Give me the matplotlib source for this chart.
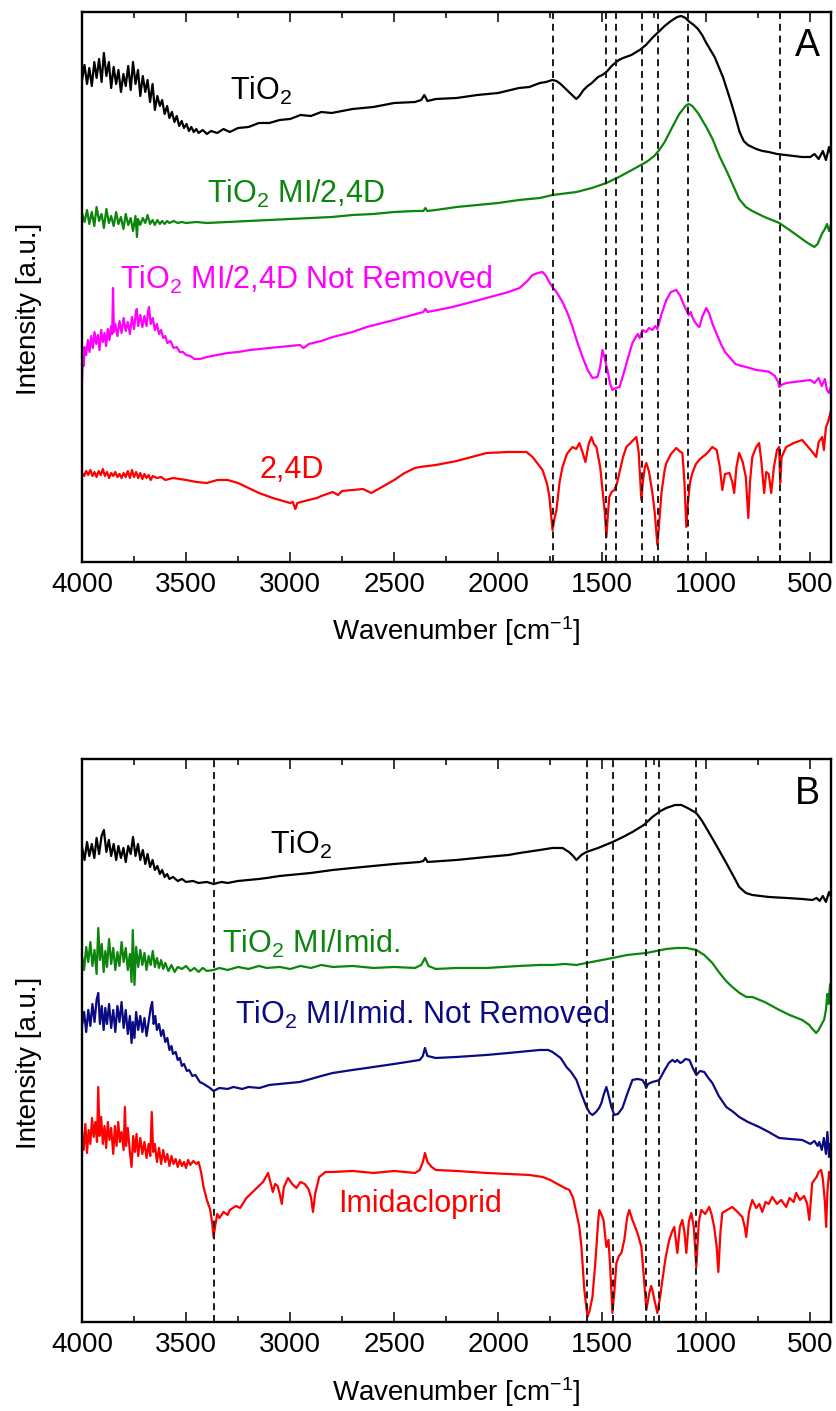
import numpy as np
import matplotlib.pyplot as plt
from matplotlib.ticker import MultipleLocator

plt.rcParams['font.family'] = 'Liberation Sans'
plt.rcParams['mathtext.fontset'] = 'custom'
plt.rcParams['mathtext.rm'] = 'Liberation Sans'
plt.rcParams['mathtext.it'] = 'Liberation Sans:italic'
plt.rcParams['lines.scale_dashes'] = False

# FTIR spectra, (wavenumber cm-1, offset intensity a.u.)
# panel A: 2,4-D series
tio2_a = [(4000,482),(3988,497),(3976,478),(3965,494),(3953,476),(3941,500),(3930,484),(3918,503),(3906,480),(3895,509),(3883,486),(3871,500),(3860,474),(3848,495),(3836,478),(3825,492),(3813,470),(3801,488),(3790,476),(3778,496),(3766,472),(3755,500),(3743,478),(3731,492),(3720,466),(3708,486),(3696,470),(3685,482),(3673,460),(3661,478),(3650,452),(3638,466),(3626,456),(3615,462),(3603,448),(3591,456),(3580,444),(3568,450),(3556,440),(3545,446),(3533,436),(3521,441),(3510,434),(3498,438),(3486,431),(3475,435),(3463,430),(3451,433),(3440,429),(3420,432),(3400,428),(3380,431),(3350,429),(3320,433),(3290,430),(3250,434),(3200,435),(3150,439),(3100,439),(3050,442),(3000,443),(2950,447),(2900,446),(2850,450),(2800,449),(2700,453),(2600,455),(2500,459),(2400,460),(2370,462),(2355,467),(2340,461),(2300,463),(2200,464),(2100,467),(2000,469),(1900,474),(1850,475),(1800,479),(1770,480),(1740,482),(1720,481),(1700,478),(1680,474),(1660,470),(1640,466),(1625,463),(1610,466),(1590,472),(1570,476),(1550,479),(1520,485),(1500,487),(1480,490),(1450,497),(1420,502),(1400,504),(1360,507),(1320,512),(1290,517),(1260,524),(1230,530),(1200,536),(1170,541),(1140,545),(1120,546),(1100,544),(1080,540),(1060,537),(1040,533),(1020,527),(1000,519),(980,512),(960,505),(940,495),(920,485),(900,472),(880,459),(860,445),(840,430),(820,421),(800,417),(780,415),(760,413),(730,411),(700,410),(660,408),(620,407),(580,406),(540,405),(500,405),(480,408),(460,403),(440,411),(425,402),(410,415),(400,407)]

mi_24d = [(4000,349),(3988,340),(3976,352),(3965,338),(3953,350),(3941,336),(3930,355),(3918,341),(3906,348),(3895,334),(3883,353),(3871,339),(3860,346),(3848,336),(3836,350),(3825,338),(3813,345),(3801,333),(3790,348),(3778,337),(3766,344),(3755,331),(3743,346),(3736,325),(3731,343),(3720,337),(3708,344),(3696,339),(3685,347),(3673,338),(3661,342),(3650,337),(3638,342),(3626,338),(3615,341),(3603,338),(3591,341),(3580,339),(3560,341),(3540,339),(3520,340),(3500,339),(3450,340),(3400,339),(3300,340),(3200,341),(3100,342),(3000,343),(2900,344),(2800,345),(2700,347),(2600,348),(2500,350),(2400,351),(2360,351),(2350,354),(2340,351),(2300,352),(2200,355),(2100,357),(2000,359),(1900,362),(1800,364),(1739,367),(1700,368),(1624,370),(1550,374),(1480,379),(1420,385),(1384,389),(1340,394),(1288,400),(1250,406),(1226,412),(1200,420),(1163,435),(1130,448),(1100,456),(1085,458),(1067,456),(1040,449),(1020,442),(1000,435),(970,423),(937,406),(900,390),(870,376),(842,363),(810,355),(779,351),(720,345),(649,339),(600,332),(553,325),(520,320),(481,315),(465,318),(455,323),(442,329),(430,333),(420,338),(410,331),(400,338)]

mi_24d_nr = [(4000,182),(3996,205),(3992,196),(3988,215),(3980,207),(3972,222),(3964,210),(3956,226),(3948,214),(3940,230),(3932,218),(3924,227),(3916,212),(3908,232),(3900,220),(3892,229),(3884,216),(3876,233),(3868,222),(3860,236),(3855,228),(3851,274),(3847,230),(3840,238),(3830,226),(3820,241),(3810,229),(3800,244),(3790,231),(3780,240),(3770,228),(3760,245),(3750,233),(3742,248),(3737,253),(3730,236),(3720,247),(3710,235),(3700,246),(3690,236),(3683,250),(3678,255),(3670,238),(3660,244),(3650,232),(3640,238),(3630,228),(3620,232),(3610,224),(3600,226),(3590,219),(3575,221),(3560,214),(3545,215),(3530,210),(3515,210),(3500,207),(3480,206),(3460,203),(3434,203),(3400,205),(3352,207),(3300,209),(3250,210),(3193,212),(3100,214),(3000,216),(2953,217),(2935,214),(2910,218),(2850,221),(2795,225),(2700,230),(2632,235),(2500,242),(2377,249),(2360,250),(2350,253),(2340,250),(2219,255),(2056,264),(1950,270),(1897,274),(1860,281),(1835,287),(1810,289),(1787,290),(1770,286),(1755,280),(1739,275),(1720,270),(1691,260),(1665,248),(1643,235),(1620,220),(1595,205),(1570,192),(1547,184),(1523,185),(1510,195),(1499,212),(1490,205),(1475,192),(1462,178),(1451,172),(1435,174),(1417,175),(1395,190),(1375,205),(1355,219),(1330,228),(1320,224),(1307,232),(1290,230),(1275,234),(1259,232),(1245,236),(1235,233),(1215,248),(1192,262),(1170,270),(1144,272),(1125,266),(1110,258),(1096,252),(1085,247),(1075,250),(1067,245),(1055,240),(1040,236),(1033,235),(1020,245),(1000,254),(985,248),(970,238),(952,229),(930,218),(910,210),(889,205),(860,198),(830,196),(808,195),(760,192),(720,191),(697,190),(670,186),(655,180),(649,175),(640,177),(616,179),(580,180),(540,181),(500,182),(480,179),(460,184),(445,176),(430,183),(420,172),(410,169),(400,176)]

d24 = [(4000,89),(3990,86),(3980,91),(3970,87),(3960,92),(3950,86),(3940,90),(3930,85),(3920,91),(3910,87),(3900,93),(3890,86),(3880,90),(3870,84),(3860,89),(3850,86),(3840,90),(3830,85),(3820,88),(3810,84),(3800,89),(3790,85),(3780,91),(3770,84),(3760,92),(3750,85),(3740,90),(3730,84),(3720,89),(3710,83),(3700,88),(3690,84),(3680,87),(3670,82),(3660,86),(3640,84),(3620,85),(3600,82),(3563,84),(3500,82),(3450,80),(3400,79),(3350,82),(3300,82),(3250,79),(3200,74),(3150,69),(3083,64),(3050,62),(3000,59),(2987,60),(2975,53),(2965,59),(2930,61),(2871,64),(2850,66),(2795,70),(2770,67),(2750,71),(2700,72),(2650,73),(2610,69),(2584,72),(2550,76),(2500,82),(2450,89),(2400,94),(2377,95),(2300,97),(2200,101),(2056,109),(1950,110),(1864,110),(1835,105),(1787,92),(1765,78),(1754,65),(1739,32),(1728,45),(1720,52),(1705,80),(1691,95),(1670,108),(1643,115),(1625,113),(1610,119),(1595,110),(1581,100),(1565,118),(1552,125),(1540,118),(1528,115),(1510,95),(1499,72),(1488,50),(1480,25),(1472,50),(1466,65),(1455,70),(1442,72),(1430,78),(1418,89),(1400,105),(1384,115),(1360,120),(1336,125),(1325,110),(1318,85),(1312,62),(1305,80),(1295,95),(1288,99),(1275,90),(1259,69),(1248,50),(1240,30),(1235,17),(1228,35),(1215,70),(1200,92),(1192,99),(1170,108),(1144,114),(1130,111),(1115,109),(1105,80),(1096,35),(1088,60),(1078,80),(1067,89),(1050,98),(1030,103),(1000,108),(971,115),(950,112),(935,95),(923,72),(910,88),(889,89),(875,80),(866,69),(855,95),(842,109),(825,100),(810,85),(798,44),(790,80),(779,105),(760,115),(746,119),(735,100),(722,69),(712,90),(700,88),(688,69),(675,95),(660,112),(650,115),(645,79),(638,105),(616,115),(580,119),(539,122),(510,115),(490,110),(472,105),(460,120),(443,125),(435,112),(425,135),(415,140),(400,152)]

# panel B: imidacloprid series
tio2_b = [(4000,475),(3988,462),(3976,480),(3965,466),(3953,478),(3941,464),(3930,484),(3918,468),(3906,486),(3895,492),(3883,470),(3871,482),(3860,466),(3848,478),(3836,462),(3825,476),(3813,464),(3801,474),(3790,460),(3778,476),(3766,468),(3755,485),(3743,466),(3731,478),(3720,462),(3708,472),(3696,458),(3685,468),(3673,455),(3661,462),(3650,452),(3638,456),(3626,448),(3615,452),(3603,445),(3591,448),(3580,443),(3563,445),(3540,441),(3520,443),(3500,440),(3467,441),(3440,439),(3400,440),(3368,438),(3330,440),(3300,439),(3250,441),(3200,442),(3150,443),(3112,444),(3050,446),(3000,447),(2900,449),(2795,452),(2700,454),(2600,456),(2500,458),(2377,460),(2360,461),(2350,464),(2340,460),(2200,462),(2056,465),(1950,467),(1897,469),(1800,472),(1739,474),(1691,474),(1660,470),(1640,466),(1624,462),(1600,467),(1576,470),(1520,474),(1450,480),(1400,485),(1355,490),(1300,497),(1259,505),(1220,511),(1192,514),(1150,517),(1120,517),(1090,514),(1048,509),(1020,501),(986,489),(950,476),(904,459),(870,446),(842,435),(810,429),(779,427),(700,425),(616,424),(540,423),(490,422),(470,424),(455,421),(440,426),(425,420),(410,430),(400,425)]

mi_imid = [(4000,366),(3990,352),(3980,375),(3970,360),(3960,380),(3950,356),(3940,372),(3930,348),(3922,394),(3914,362),(3905,378),(3896,350),(3888,371),(3880,355),(3870,383),(3860,358),(3850,374),(3840,352),(3830,370),(3820,356),(3810,380),(3800,360),(3790,374),(3780,352),(3770,368),(3762,340),(3756,392),(3748,337),(3740,375),(3730,355),(3720,372),(3710,357),(3700,369),(3690,352),(3680,366),(3670,357),(3660,371),(3650,355),(3640,364),(3630,354),(3620,362),(3610,353),(3600,359),(3585,351),(3570,357),(3555,350),(3540,355),(3520,353),(3500,356),(3480,351),(3460,354),(3440,350),(3420,354),(3400,351),(3368,352),(3340,354),(3300,352),(3250,355),(3200,353),(3150,356),(3112,354),(3050,355),(3000,353),(2950,356),(2900,354),(2850,357),(2795,355),(2700,356),(2600,354),(2500,355),(2400,354),(2370,357),(2352,364),(2335,356),(2300,353),(2200,354),(2056,354),(1900,356),(1800,357),(1739,357),(1680,358),(1624,357),(1576,359),(1500,362),(1450,364),(1380,367),(1288,369),(1240,371),(1192,373),(1140,374),(1096,374),(1048,372),(1010,367),(971,359),(940,350),(905,341),(875,335),(840,329),(808,325),(779,325),(720,320),(649,312),(600,307),(539,302),(505,297),(490,293),(472,289),(460,292),(450,296),(440,300),(434,302),(425,312),(418,328),(412,318),(405,338),(400,332)]

mi_imid_nr = [(4000,296),(3990,310),(3980,290),(3970,312),(3960,296),(3950,318),(3940,300),(3930,322),(3922,329),(3914,298),(3905,316),(3896,292),(3888,314),(3880,298),(3870,318),(3860,294),(3850,312),(3840,290),(3830,316),(3820,300),(3810,320),(3800,294),(3790,312),(3780,288),(3770,306),(3762,279),(3756,300),(3748,284),(3740,310),(3730,292),(3720,306),(3710,290),(3700,304),(3690,286),(3680,300),(3670,314),(3663,320),(3656,298),(3648,306),(3640,292),(3630,298),(3620,286),(3610,292),(3600,280),(3590,284),(3580,272),(3570,276),(3563,268),(3550,270),(3540,262),(3530,264),(3520,256),(3510,258),(3496,251),(3485,252),(3470,246),(3455,247),(3434,240),(3415,238),(3400,236),(3385,234),(3368,231),(3340,234),(3300,233),(3272,235),(3230,233),(3200,235),(3147,234),(3100,237),(3050,238),(2953,240),(2900,243),(2850,246),(2795,249),(2700,252),(2632,254),(2500,258),(2377,262),(2362,266),(2352,274),(2340,266),(2300,264),(2200,265),(2056,267),(1950,269),(1850,271),(1800,272),(1760,272),(1739,270),(1700,264),(1672,255),(1650,250),(1624,242),(1600,228),(1576,215),(1560,209),(1547,207),(1530,210),(1515,214),(1504,219),(1492,228),(1480,235),(1470,227),(1456,215),(1442,207),(1425,208),(1403,214),(1380,228),(1355,242),(1330,243),(1307,242),(1295,238),(1289,234),(1280,238),(1259,240),(1240,241),(1226,242),(1200,252),(1180,259),(1163,262),(1150,260),(1140,262),(1125,259),(1115,260),(1100,263),(1081,262),(1065,254),(1048,247),(1030,251),(1010,250),(990,244),(971,239),(940,226),(904,215),(870,210),(842,205),(800,200),(746,195),(700,190),(650,184),(600,183),(539,182),(500,178),(480,181),(465,176),(457,180),(445,172),(435,184),(425,168),(418,190),(410,165),(405,178),(400,172)]

imid = [(4000,190),(3992,172),(3984,198),(3976,169),(3968,192),(3960,178),(3952,204),(3944,185),(3936,200),(3928,180),(3922,235),(3916,186),(3908,205),(3900,178),(3892,196),(3884,174),(3876,200),(3868,182),(3860,194),(3850,168),(3842,196),(3834,176),(3826,200),(3818,180),(3810,190),(3800,172),(3794,215),(3788,176),(3780,194),(3770,170),(3762,155),(3754,186),(3746,170),(3738,188),(3730,166),(3720,184),(3710,168),(3700,180),(3690,164),(3680,178),(3672,166),(3665,210),(3658,170),(3650,178),(3640,160),(3630,174),(3620,158),(3610,172),(3600,160),(3590,168),(3580,156),(3570,166),(3560,158),(3550,163),(3540,155),(3530,162),(3520,156),(3510,160),(3500,154),(3490,162),(3480,157),(3465,161),(3450,158),(3440,160),(3428,150),(3416,135),(3400,122),(3385,113),(3375,100),(3368,85),(3360,96),(3350,108),(3340,104),(3320,110),(3300,107),(3290,112),(3260,116),(3240,114),(3210,124),(3180,130),(3150,136),(3130,140),(3106,149),(3095,140),(3083,130),(3072,138),(3060,136),(3050,128),(3040,118),(3030,135),(3010,144),(2990,138),(2970,134),(2950,140),(2930,138),(2912,133),(2900,125),(2890,110),(2880,128),(2860,145),(2830,150),(2795,150),(2700,151),(2600,149),(2500,151),(2400,149),(2377,152),(2362,160),(2352,169),(2340,160),(2320,155),(2300,152),(2200,151),(2056,149),(1950,148),(1850,147),(1787,145),(1750,142),(1707,137),(1680,134),(1658,132),(1640,124),(1624,109),(1610,95),(1600,75),(1586,32),(1571,5),(1560,12),(1547,25),(1535,55),(1528,75),(1520,100),(1514,112),(1505,108),(1494,102),(1487,88),(1480,75),(1470,82),(1462,55),(1451,9),(1442,30),(1432,59),(1420,66),(1408,69),(1394,82),(1380,105),(1370,112),(1355,102),(1336,92),(1325,85),(1312,75),(1300,45),(1288,12),(1275,28),(1265,36),(1259,32),(1247,20),(1235,9),(1222,25),(1211,42),(1195,65),(1178,82),(1165,90),(1154,95),(1139,69),(1127,95),(1115,102),(1105,90),(1096,69),(1084,100),(1072,109),(1060,95),(1048,55),(1036,100),(1024,112),(1005,108),(986,115),(975,108),(962,95),(950,75),(942,50),(932,90),(923,109),(900,112),(875,115),(850,110),(827,105),(815,95),(808,85),(795,110),(779,122),(760,114),(745,118),(731,110),(715,120),(700,118),(683,125),(660,118),(640,122),(616,115),(600,124),(580,120),(568,129),(550,122),(530,126),(515,118),(505,102),(498,120),(491,139),(470,145),(460,150),(448,152),(440,143),(430,120),(424,95),(418,130),(410,150),(405,149),(400,140)]

# marked band positions (cm-1)
bands_a = [1736, 1481, 1432, 1308, 1232, 1089, 644]
bands_b = [3368, 1572, 1447, 1289, 1225, 1048]

GREEN = '#0c850c'
NAVY = '#0a0a84'

panel_a = [(tio2_a, 'black', 'TiO$_\\mathregular{2}$', 3290, 462),
           (mi_24d, GREEN, 'TiO$_\\mathregular{2}$ MI/2,4D', 3400, 359),
           (mi_24d_nr, '#ff00ff', 'TiO$_\\mathregular{2}$ MI/2,4D Not Removed', 3818, 273),
           (d24, '#ff0000', '2,4D', 3146, 84)]
panel_b = [(tio2_b, 'black', 'TiO$_\\mathregular{2}$', 3098, 468),
           (mi_imid, GREEN, 'TiO$_\\mathregular{2}$ MI/Imid.', 3328, 369),
           (mi_imid_nr, NAVY, 'TiO$_\\mathregular{2}$ MI/Imid. Not Removed', 3266, 298),
           (imid, '#ff0000', 'Imidacloprid', 2771, 110)]


def draw_panel(ax, spectra, bands, tag, ytop):
    for wn in bands:
        ax.axvline(wn, color='#1a1a1a', lw=1.4, dashes=(5, 3.5), zorder=3)
    for data, color, label, lx, ly in spectra:
        wn, inten = np.array(data).T
        ax.plot(wn, inten, color=color, lw=1.6, zorder=2)
        ax.text(lx, ly, label, color=color, fontsize=22, ha='left', va='baseline')
    ax.text(0.952, 0.92, tag, transform=ax.transAxes, fontsize=27, ha='left', va='baseline')
    ax.set_xlim(4000, 400)
    ax.set_ylim(0, ytop)
    ax.xaxis.set_major_locator(MultipleLocator(500))
    ax.xaxis.set_minor_locator(MultipleLocator(250))
    ax.tick_params(axis='x', which='both', direction='in', top=True, labelsize=20, pad=7, width=1.1)
    ax.tick_params(axis='x', which='major', length=7)
    ax.tick_params(axis='x', which='minor', length=4.5)
    ax.tick_params(axis='y', left=False, labelleft=False)
    for s in ax.spines.values():
        s.set_linewidth(1.7)
    ax.set_xlabel('Wavenumber [cm$^{\\mathregular{-1}}$]', fontsize=20)
    ax.set_ylabel('Intensity [a.u.]', fontsize=20)
    ax.yaxis.set_label_coords(-0.053, 0.46)
    ax.xaxis.set_label_coords(0.5, -0.095)
    ax.xaxis.label.set_va('top')


fig = plt.figure(figsize=(8.37, 14.11), dpi=100)
ax_a = fig.add_axes([0.098, 0.6017, 0.895, 0.3898])
ax_b = fig.add_axes([0.098, 0.0631, 0.895, 0.3990])

draw_panel(ax_a, panel_a, bands_a, 'A', 550)
draw_panel(ax_b, panel_b, bands_b, 'B', 563)

fig.savefig('out.png', dpi=100)
